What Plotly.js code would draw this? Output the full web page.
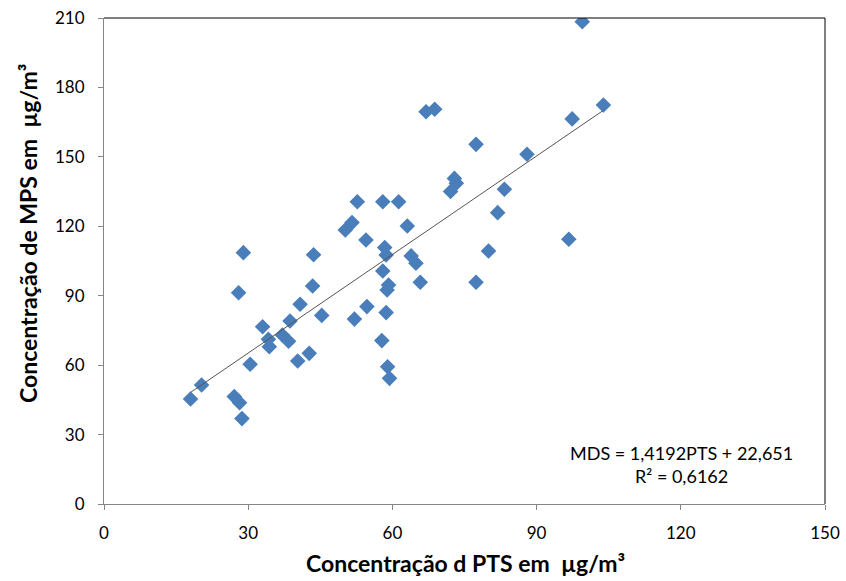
<!DOCTYPE html>
<html>
<head>
<meta charset="utf-8">
<script src="https://cdn.plot.ly/plotly-3.0.1.min.js"></script>
<style>html,body{margin:0;padding:0;background:#fff}#chart{width:846px;height:581px}</style>
</head>
<body>
<div id="chart"></div>
<script>
const ptsX = [18.0, 20.3, 27.1, 28.2, 28.7, 28.0, 29.0, 30.4, 33.0, 34.2, 34.4, 37.1, 38.4, 38.7, 40.3, 40.8, 42.7, 43.4, 43.6, 45.3, 50.2, 51.6, 52.1, 52.7, 54.5, 54.7, 57.8, 58.0, 58.0, 58.4, 58.7, 58.7, 58.9, 59.2, 59.0, 59.4, 61.3, 63.1, 63.9, 64.9, 65.8, 67.0, 68.8, 72.1, 72.9, 73.3, 77.4, 77.4, 80.0, 81.9, 83.3, 88.0, 96.7, 97.4, 99.5, 103.9];
const mpsY = [45.4, 51.4, 46.4, 43.8, 36.9, 91.3, 108.6, 60.4, 76.6, 71.2, 68.0, 73.0, 70.3, 79.1, 61.8, 86.3, 65.1, 94.2, 107.7, 81.5, 118.4, 121.6, 79.9, 130.6, 114.1, 85.3, 70.6, 100.7, 130.6, 110.8, 107.6, 82.7, 92.5, 94.6, 59.3, 54.3, 130.6, 120.1, 107.2, 104.0, 95.8, 169.5, 170.6, 135.0, 140.7, 138.6, 155.4, 95.8, 109.3, 125.9, 136.0, 151.1, 114.4, 166.4, 208.4, 172.4];
const slope = 1.4192, intercept = 22.651;
const trendX = [Math.min(...ptsX), Math.max(...ptsX)];
const trendY = trendX.map(x => slope * x + intercept);
const xTickVals = [0, 30, 60, 90, 120, 150];
const yTickVals = [0, 30, 60, 90, 120, 150, 180, 210];
const xTitle = 'Concentração d PTS em  µg/m³';
const yTitle = 'Concentração de MPS em  µg/m³';
const eqText = 'MDS = 1,4192PTS + 22,651<br>R² = 0,6162';

const font = 'Lato, "Open Sans", sans-serif';
const data = [
  {x: ptsX, y: mpsY, mode: 'markers', type: 'scatter',
   marker: {symbol: 'diamond', size: 12, color: '#4a7ebb'}},
  {x: trendX, y: trendY, mode: 'lines', type: 'scatter',
   line: {color: '#555555', width: 1}}
];
const layout = {
  width: 846, height: 581,
  margin: {l: 104, r: 21, t: 18, b: 77},
  paper_bgcolor: '#fff', plot_bgcolor: '#fff',
  showlegend: false,
  font: {family: font, color: '#000', size: 17},
  xaxis: {range: [0, 150], tickvals: xTickVals, showgrid: false, zeroline: false,
    showline: true, linecolor: '#868686', linewidth: 1, ticks: 'outside', ticklen: 5, tickcolor: '#868686',
    tickfont: {size: 17, family: font}, ticklabelstandoff: 9},
  yaxis: {range: [0, 210], tickvals: yTickVals, showgrid: false, zeroline: false,
    showline: true, linecolor: '#868686', linewidth: 1, ticks: 'outside', ticklen: 5, tickcolor: '#868686',
    tickfont: {size: 17, family: font}, ticklabelstandoff: 10},
  shapes: [
    {type: 'line', xref: 'paper', yref: 'paper', x0: 0, x1: 1, y0: 1, y1: 1, line: {color: '#000', width: 1}},
    {type: 'line', xref: 'paper', yref: 'paper', x0: 1, x1: 1, y0: 0, y1: 1, line: {color: '#000', width: 1}}
  ],
  annotations: [
    {xref: 'paper', yref: 'paper', x: 0.801, y: 0.082, xanchor: 'center', yanchor: 'middle',
     text: eqText, showarrow: false, align: 'center', font: {size: 18, family: font}},
    {xref: 'paper', yref: 'paper', x: 0.5007, y: -0.1214, xanchor: 'center', yanchor: 'middle',
     text: xTitle, showarrow: false, font: {size: 23, family: font, weight: 'bold'}},
    {xref: 'paper', yref: 'paper', x: -0.1054, y: 0.5576, xanchor: 'center', yanchor: 'middle',
     textangle: -90, text: yTitle, showarrow: false, font: {size: 23, family: font, weight: 'bold'}}
  ]
};
Plotly.newPlot('chart', data, layout, {displayModeBar: false, staticPlot: true});
</script>
</body>
</html>
